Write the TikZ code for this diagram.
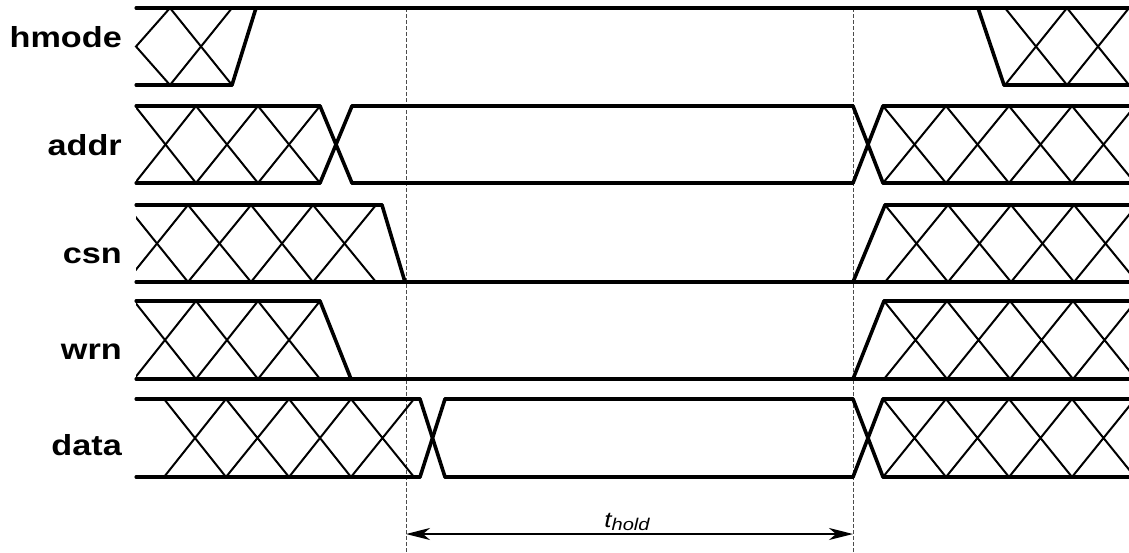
\documentclass[tikz,border=0pt]{standalone}
\usepackage{fontspec}
\usepackage{graphicx}
\setmainfont{Liberation Sans}
\usetikzlibrary{arrows.meta}
\tikzset{
  sig/.style={line width=3.1pt, line cap=round, line join=round},
  edgeline/.style={line width=3.6pt, line cap=round, line join=round},
  hatchline/.style={line width=2pt},
  guide/.style={line width=1pt, black!70, dash pattern=on 4pt off 2pt},
  lbl/.style={anchor=base east, inner sep=0pt, font=\fontsize{29}{30}\selectfont\bfseries},
  span/.style={line width=1.8pt, {Stealth[length=24pt,width=12pt,inset=7pt]}-{Stealth[length=24pt,width=12pt,inset=7pt]}}
}
\newcommand{\xhatch}[5]{%
  \begin{scope}
    \clip (#3,#1-4) rectangle (#4,#2+4);
    \foreach \a/\b in {#5} {\draw[hatchline] (\a,#1) -- (\b,#2) (\a,#2) -- (\b,#1);}
  \end{scope}}
\begin{document}
\begin{tikzpicture}[x=1pt,y=-1pt]
\useasboundingbox (0,0) rectangle (1129,552);

% labels
\node[lbl] (lhmode) at (122,47) {\scalebox{1.18}[1]{hmode}};
\node[lbl] (laddr) at (122,155) {\scalebox{1.18}[1]{addr}};
\node[lbl] (lcsn) at (122,263) {\scalebox{1.18}[1]{csn}};
\node[lbl] (lwrn) at (122,359) {\scalebox{1.18}[1]{wrn}};
\node[lbl] (ldata) at (122,455) {\scalebox{1.18}[1]{data}};

% guides
\coordinate (g1t) at (406,8);
\coordinate (g1b) at (406,552);
\coordinate (g2t) at (853,8);
\coordinate (g2b) at (853,552);
\draw[guide] (g1t) -- (g1b);
\draw[guide] (g2t) -- (g2b);

% hmode (T=8, B=85)
\draw[sig] (136,8) -- (1129,8);
\draw[sig] (136,85) -- (232,85);
\draw[edgeline] (232,85) -- (256,8);
\draw[hatchline] (170,8) -- (136,46.5) -- (170,85);
\xhatch{8}{85}{136}{232}{170/232}
\draw[edgeline] (978,8) -- (1004,85);
\draw[sig] (1004,85) -- (1129,85);
\xhatch{8}{85}{1004}{1129}{1005/1067,1067/1129}

% addr (T=106, B=183)
\draw[sig] (136,106) -- (320,106);
\draw[sig] (136,183) -- (320,183);
\xhatch{106}{183}{136}{320}{135/196,196/258,258/320}
\draw[edgeline] (320,106) -- (352,183);
\draw[edgeline] (320,183) -- (352,106);
\draw[sig] (352,106) -- (853,106);
\draw[sig] (352,183) -- (853,183);
\draw[edgeline] (853,106) -- (883,183);
\draw[edgeline] (853,183) -- (883,106);
\draw[sig] (883,106) -- (1129,106);
\draw[sig] (883,183) -- (1129,183);
\xhatch{106}{183}{883}{1129}{883/946,946/1009,1009/1072,1072/1135}

% csn (T=205, B=282)
\draw[sig] (136,205) -- (382,205);
\draw[sig] (136,282) -- (1129,282);
\xhatch{205}{282}{136}{382}{126/188,188/251,251/313,313/376}
\draw[edgeline] (382,205) -- (405,282);
\draw[edgeline] (853,282) -- (885,205);
\draw[sig] (885,205) -- (1129,205);
\xhatch{205}{282}{885}{1129}{885/948,948/1011,1011/1074,1074/1137}

% wrn (T=301, B=379)
\draw[sig] (136,301) -- (320,301);
\draw[sig] (136,379) -- (1129,379);
\xhatch{301}{379}{136}{320}{134/196,196/258,258/320}
\draw[edgeline] (320,301) -- (351,379);
\draw[edgeline] (853,379) -- (884,301);
\draw[sig] (884,301) -- (1129,301);
\xhatch{301}{379}{884}{1129}{884/947,947/1010,1010/1073,1073/1136}

% data (T=399, B=477)
\draw[sig] (136,399) -- (420,399);
\draw[sig] (136,477) -- (420,477);
\xhatch{399}{477}{136}{420}{164/226,226/289,289/351,351/414}
\draw[edgeline] (420,399) -- (445,477);
\draw[edgeline] (420,477) -- (445,399);
\draw[sig] (445,399) -- (853,399);
\draw[sig] (445,477) -- (853,477);
\draw[edgeline] (853,399) -- (883,477);
\draw[edgeline] (853,477) -- (883,399);
\draw[sig] (883,399) -- (1129,399);
\draw[sig] (883,477) -- (1129,477);
\xhatch{399}{477}{883}{1129}{883/946,946/1009,1009/1072,1072/1135}

% t_hold span
\coordinate (s1) at (406,534);
\coordinate (s2) at (853,534);
\draw[span] (s1) -- (s2);
\node[anchor=base, inner sep=0pt] (thold) at (627,527)
  {\scalebox{1.18}[1]{\fontsize{22}{24}\selectfont\itshape t\raisebox{-3.5pt}{\fontsize{17}{18}\selectfont hold}}};
\end{tikzpicture}
\end{document}
